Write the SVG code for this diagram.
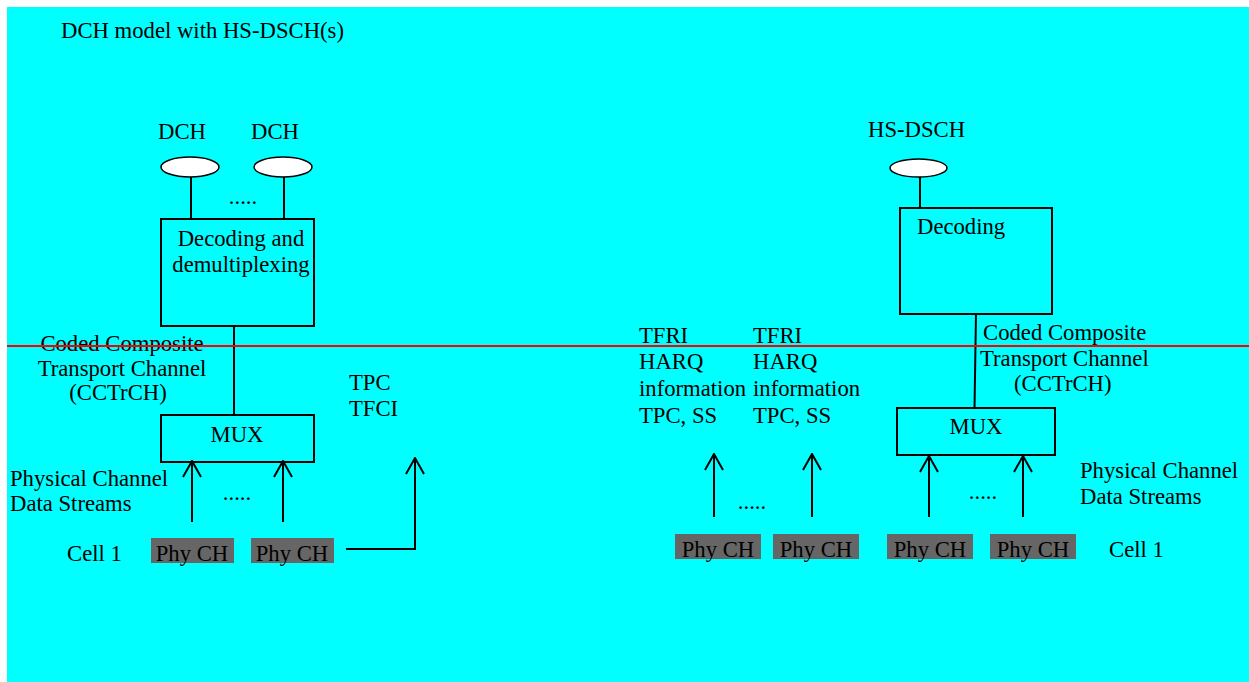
<svg xmlns="http://www.w3.org/2000/svg" width="1249" height="682" viewBox="0 0 1249 682">
<defs>
<style>
text{font-family:"Liberation Serif","Times New Roman","DejaVu Serif",serif;font-size:22.7px;fill:#000}
.c{text-anchor:middle}
.box{fill:none;stroke:#000;stroke-width:2}
.ell{fill:#fff;stroke:#000;stroke-width:1.5}
.ln{fill:none;stroke:#000;stroke-width:2}
.phy{fill:#666666}
</style>
<marker id="ah" viewBox="0 0 20 20" refX="19" refY="10" markerWidth="20" markerHeight="20" markerUnits="userSpaceOnUse" orient="auto">
<path d="M3,1 L19,10 L3,19" fill="none" stroke="#000" stroke-width="2"/>
</marker>
</defs>
<rect x="7" y="7" width="1242" height="675" fill="#00ffff"/>
<text x="61" y="38">DCH model with HS-DSCH(s)</text>

<g id="dch1"><ellipse class="ell" cx="190" cy="167" rx="29" ry="10"/><text x="158" y="139">DCH</text></g>
<g id="dch2"><ellipse class="ell" cx="283" cy="167" rx="29" ry="10"/><text x="251" y="139">DCH</text></g>
<text x="243" y="204" class="c">.....</text>
<g id="decdemux"><rect class="box" x="161" y="219" width="153" height="107"/><text x="241" y="246" class="c">Decoding and</text><text x="241" y="272" class="c">demultiplexing</text></g>
<g id="mux1"><rect class="box" x="161" y="415" width="153" height="47"/><text x="237" y="442" class="c">MUX</text></g>
<text x="122" y="351" class="c">Coded Composite</text>
<text x="122" y="376" class="c">Transport Channel</text>
<text x="118" y="400" class="c">(CCTrCH)</text>
<text x="349" y="390">TPC</text>
<text x="349" y="416">TFCI</text>
<text x="10" y="486">Physical Channel</text>
<text x="10" y="511">Data Streams</text>
<text x="237" y="500" class="c">.....</text>
<text x="67" y="561">Cell 1</text>
<g id="phy1"><rect class="phy" x="151" y="538" width="83" height="25"/><text x="192" y="561" class="c">Phy CH</text></g>
<g id="phy2"><rect class="phy" x="251" y="538" width="83" height="25"/><text x="292" y="561" class="c">Phy CH</text></g>

<text x="639" y="343">TFRI</text><text x="639" y="369">HARQ</text><text x="639" y="396">information</text><text x="639" y="423">TPC, SS</text>
<text x="753" y="343">TFRI</text><text x="753" y="369">HARQ</text><text x="753" y="396">information</text><text x="753" y="423">TPC, SS</text>
<text x="752" y="509" class="c">.....</text>
<g id="phy3"><rect class="phy" x="675" y="534" width="86" height="25"/><text x="718" y="557" class="c">Phy CH</text></g>
<g id="phy4"><rect class="phy" x="773" y="534" width="86" height="25"/><text x="816" y="557" class="c">Phy CH</text></g>

<g id="hsdsch"><ellipse class="ell" cx="918.5" cy="168" rx="28.5" ry="9"/><text x="868" y="137">HS-DSCH</text></g>
<g id="dec"><rect class="box" x="900" y="208" width="152" height="106"/><text x="917" y="234">Decoding</text></g>
<g id="mux2"><rect class="box" x="897" y="408" width="158" height="47"/><text x="976" y="434" class="c">MUX</text></g>
<text x="983" y="340">Coded Composite</text>
<text x="980" y="366">Transport Channel</text>
<text x="1014" y="391">(CCTrCH)</text>
<text x="1080" y="478">Physical Channel</text>
<text x="1080" y="504">Data Streams</text>
<text x="983" y="499" class="c">.....</text>
<g id="phy5"><rect class="phy" x="887" y="534" width="86" height="25"/><text x="930" y="557" class="c">Phy CH</text></g>
<g id="phy6"><rect class="phy" x="990" y="534" width="86" height="25"/><text x="1033" y="557" class="c">Phy CH</text></g>
<text x="1109" y="557">Cell 1</text>

<g id="connectors">
<line class="ln" x1="191" y1="177" x2="191" y2="219"/>
<line class="ln" x1="284" y1="177" x2="284" y2="219"/>
<line class="ln" x1="234" y1="326" x2="234" y2="415"/>
<line class="ln" x1="192" y1="522" x2="192" y2="461" marker-end="url(#ah)"/>
<line class="ln" x1="283" y1="522" x2="283" y2="461" marker-end="url(#ah)"/>
<path class="ln" d="M346,549 H415 V458" marker-end="url(#ah)"/>
<line class="ln" x1="714" y1="517" x2="714" y2="454" marker-end="url(#ah)"/>
<line class="ln" x1="812" y1="517" x2="812" y2="454" marker-end="url(#ah)"/>
<line class="ln" x1="920" y1="177" x2="920" y2="208"/>
<line class="ln" x1="976" y1="314" x2="974.5" y2="408"/>
<line class="ln" x1="929" y1="517" x2="929" y2="456" marker-end="url(#ah)"/>
<line class="ln" x1="1023" y1="517" x2="1023" y2="456" marker-end="url(#ah)"/>
</g>
<line x1="7" y1="346" x2="1249" y2="346" stroke="#ff0000" stroke-width="2"/>
</svg>
